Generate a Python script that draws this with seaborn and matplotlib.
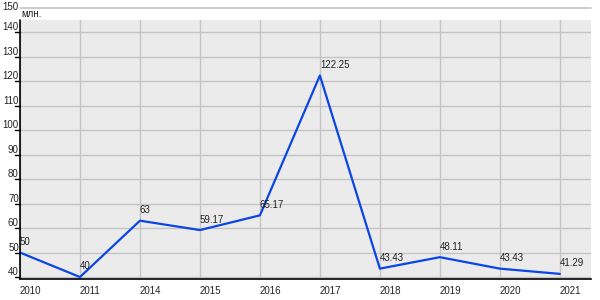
import matplotlib
matplotlib.use("Agg")
import matplotlib.pyplot as plt
import matplotlib.transforms as mtransforms
import seaborn as sns
import pandas as pd

years = ["2010", "2011", "2014", "2015", "2016", "2017", "2018", "2019", "2020", "2021"]
values = [50, 40, 63, 59.17, 65.17, 122.25, 43.43, 48.11, 43.43, 41.29]
point_labels = ["50", "40", "63", "59.17", "65.17", "122.25", "43.43", "48.11", "43.43", "41.29"]
y_ticks = [40, 50, 60, 70, 80, 90, 100, 110, 120, 130, 140, 150]
unit_label = "млн."

sns.set_style("white")
plt.rcParams["font.family"] = ["Liberation Sans", "DejaVu Sans"]

df = pd.DataFrame({"year": years, "value": values})

fig = plt.figure(figsize=(6, 3), dpi=100)
ax = fig.add_axes([20 / 600, 21 / 300, 571 / 600, 271.5 / 300])
ax.set_facecolor("#ebebeb")

sns.lineplot(data=df, x="year", y="value", sort=False, color="#0a46e6",
             linewidth=1.6, ax=ax, zorder=5)

ax.set_xlim(0, 9.52)
ax.set_ylim(39.2, 150)

# grid
for i in range(len(years)):
    ax.axvline(i, color="#c4c4c4", linewidth=1, zorder=1)
for t in y_ticks:
    ax.axhline(t, color="#c4c4c4", linewidth=1, zorder=1)
# white band at top
ax.axhspan(144.9, 150.5, color="white", zorder=2, linewidth=0)
ax.axhline(150, color="#c4c4c4", linewidth=1.2, zorder=3, clip_on=False)

for s in ["top", "right"]:
    ax.spines[s].set_visible(False)
ax.spines["left"].set_visible(False)
ax.spines["bottom"].set_color("black")
ax.spines["bottom"].set_linewidth(1.2)
ax.plot([0, 0], [39.2, 144.9], color="black", linewidth=1.2, zorder=6, clip_on=False)

ax.set_xticks(range(len(years)))
ax.set_xticklabels([])
ax.set_yticks(y_ticks)
ax.set_yticklabels([])
ax.tick_params(axis="x", length=0)
ax.tick_params(axis="y", length=0)
ax.set_xlabel("")
ax.set_ylabel("")

fs = 7
trans_x = mtransforms.blended_transform_factory(ax.transData, ax.transAxes)
for i, y in enumerate(years):
    ax.text(i + 0.0, -0.025, y, transform=trans_x, ha="left", va="top",
            fontsize=fs, color="#222222")

trans_y = mtransforms.blended_transform_factory(ax.transAxes, ax.transData)
for t in y_ticks:
    if t < 150:
        ax.text(-0.002, t, str(t), transform=trans_y, ha="right", va="bottom",
                fontsize=fs, color="#222222")
        ax.plot([-0.008, 0], [t, t], transform=trans_y, color="black",
                linewidth=1, clip_on=False)
    else:
        fig.text(20 / 600 - 0.002, 1 - 1.5 / 300, str(t), ha="right", va="top",
                 fontsize=fs, color="#222222")

ax.text(0.002, 147.4, unit_label, transform=trans_y, ha="left", va="center",
        fontsize=fs, color="#222222", zorder=7)

for i, (v, lab) in enumerate(zip(values, point_labels)):
    ax.annotate(lab, (i, v), xytext=(0, 4), textcoords="offset points",
                ha="left", va="bottom", fontsize=fs, color="#222222", zorder=7)

fig.savefig("out.png", dpi=100)
